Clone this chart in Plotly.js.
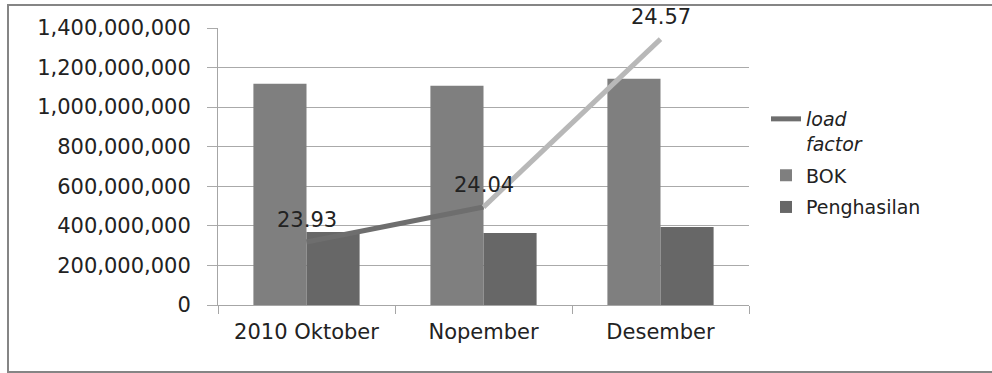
<!DOCTYPE html>
<html>
<head>
<meta charset="utf-8">
<script src="https://cdn.plot.ly/plotly-3.0.1.min.js"></script>
<style>html,body{margin:0;padding:0;background:#fff;}#chart{width:992px;height:373px;}</style>
</head>
<body>
<div id="chart"></div>
<script>
const categories = ["2010 Oktober", "Nopember", "Desember"];
const bok = [1118000000, 1108000000, 1143000000];
const penghasilan = [369000000, 364000000, 394000000];
const loadFactor = [23.93, 24.04, 24.57];
const loadLabels = ["23.93", "24.04", "24.57"];
const yTicks = [0, 200000000, 400000000, 600000000, 800000000, 1000000000, 1200000000, 1400000000];

const FONT = "DejaVu Sans, Verdana, sans-serif";
const L = 218, R = 749, T = 28, B = 305;
const pw = R - L, ph = B - T;

const traces = [
  {
    type: "bar", name: "BOK", x: categories, y: bok,
    marker: {color: "#7f7f7f"}, legendrank: 2, hoverinfo: "skip"
  },
  {
    type: "bar", name: "Penghasilan", x: categories, y: penghasilan,
    marker: {color: "#676767"}, legendrank: 3, hoverinfo: "skip"
  },
  {
    type: "scatter", mode: "lines", name: "<i>load<br>factor</i>",
    x: categories.slice(0, 2), y: loadFactor.slice(0, 2), yaxis: "y2",
    line: {color: "#6e6e6e", width: 5}, legendrank: 1, legendgroup: "lf",
    hoverinfo: "skip"
  },
  {
    type: "scatter", mode: "lines", name: "load factor", showlegend: false,
    x: categories.slice(1, 3), y: loadFactor.slice(1, 3), yaxis: "y2",
    line: {color: "#b8b8b8", width: 5}, legendgroup: "lf", hoverinfo: "skip"
  }
];

const labelAnnotations = categories.map((c, i) => ({
  x: c, y: loadFactor[i], xref: "x", yref: "y2",
  text: loadLabels[i], showarrow: false, yshift: 22,
  font: {family: FONT, size: 21, color: "#222"}
}));

const layout = {
  width: 992, height: 373,
  margin: {l: L, r: 992 - R, t: T, b: 373 - B, pad: 0},
  paper_bgcolor: "#fff", plot_bgcolor: "#fff",
  font: {family: FONT, color: "#222", size: 21},
  barmode: "group", bargap: 0.4, bargroupgap: 0,
  showlegend: true,
  legend: {
    x: (766 - L) / pw, xanchor: "left", y: (B - 100) / ph, yanchor: "top",
    font: {family: FONT, size: 19, color: "#222"},
    valign: "top", tracegroupgap: 4, bgcolor: "rgba(0,0,0,0)"
  },
  xaxis: {
    type: "category", showgrid: false, showline: true, linecolor: "#a6a6a6", linewidth: 1,
    ticks: "outside", tickson: "boundaries", ticklen: 8, tickcolor: "#a6a6a6",
    tickfont: {family: FONT, size: 21, color: "#222"}, ticklabelstandoff: 8,
    fixedrange: true
  },
  yaxis: {
    range: [0, 1400000000], tickvals: yTicks, tickformat: ",d",
    showgrid: true, gridcolor: "#aaaaaa", gridwidth: 1,
    showline: true, linecolor: "#a6a6a6", linewidth: 1,
    ticks: "outside", ticklen: 10, tickcolor: "#aaaaaa",
    tickfont: {family: FONT, size: 21, color: "#222"}, ticklabelstandoff: 12,
    zeroline: false, fixedrange: true
  },
  yaxis2: {
    overlaying: "y", side: "right", range: [23.731, 24.605],
    visible: false, showgrid: false, fixedrange: true
  },
  annotations: labelAnnotations,
  shapes: [{
    type: "rect", xref: "paper", yref: "paper",
    x0: (8 - L) / pw, x1: (1000 - L) / pw,
    y0: (B - 372) / ph, y1: (B - 5) / ph,
    line: {color: "#858585", width: 2}, fillcolor: "rgba(0,0,0,0)", layer: "below"
  }]
};

Plotly.newPlot("chart", traces, layout, {staticPlot: true, displayModeBar: false});
</script>
</body>
</html>
